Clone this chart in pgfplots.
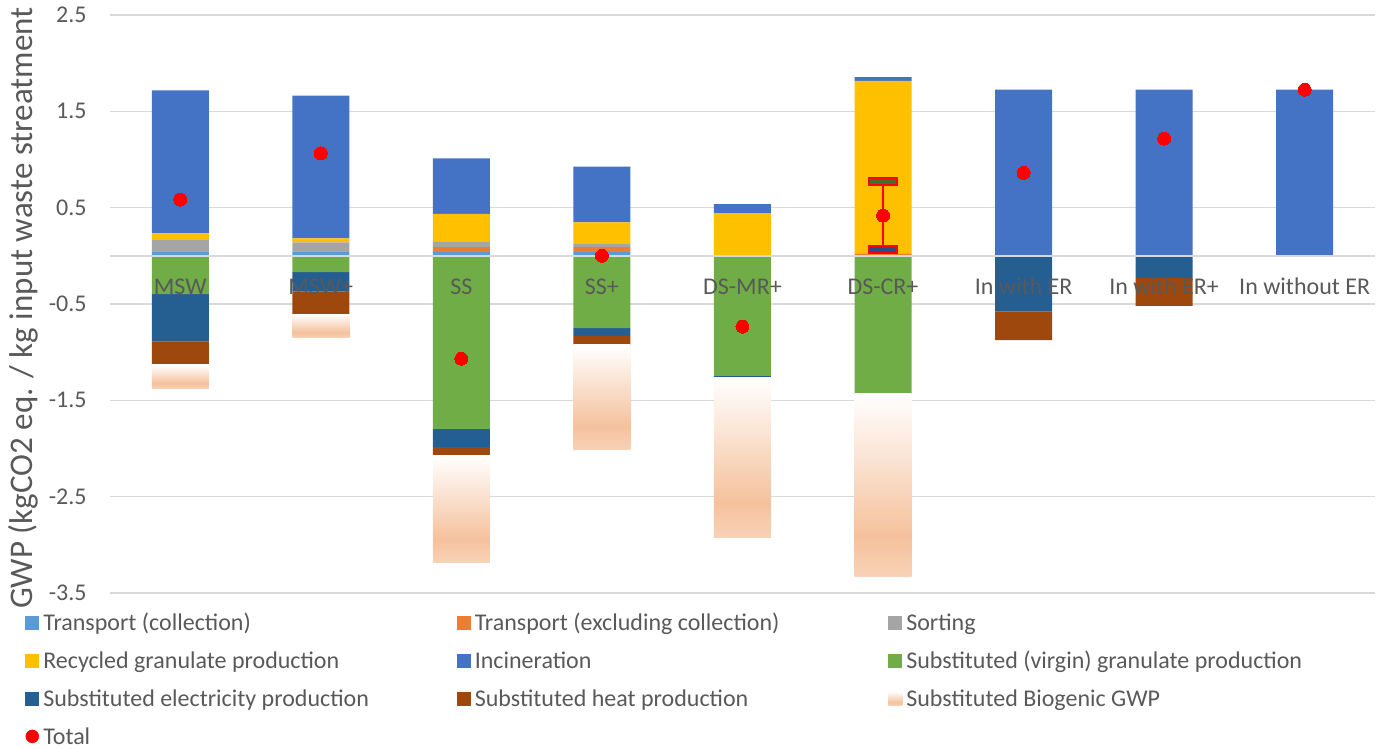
\documentclass[border=0pt]{standalone}
\usepackage{pgfplots}
\usepackage{pgfplotstable}
\pgfplotsset{compat=1.18}
\usepackage{fontspec}
\setmainfont{Carlito}

\definecolor{txt}{HTML}{595959}
\definecolor{gridc}{HTML}{D9D9D9}
\definecolor{ctcoll}{HTML}{5B9BD5}
\definecolor{ctexcl}{HTML}{ED7D31}
\definecolor{csort}{HTML}{A5A5A5}
\definecolor{crecyc}{HTML}{FFC000}
\definecolor{cincin}{HTML}{4472C4}
\definecolor{cvirgin}{HTML}{70AD47}
\definecolor{celec}{HTML}{255E91}
\definecolor{cheat}{HTML}{9E480E}
\definecolor{peachA}{HTML}{F5C19C}
\definecolor{peachB}{HTML}{F8D2B7}
\definecolor{captop}{HTML}{4A6B2E}
\definecolor{capbot}{HTML}{2B4C8C}

% white at the top of each bar, deepest peach near its foot
\pgfdeclareverticalshading{biogenic}{100bp}{color(0bp)=(peachB); color(25bp)=(peachB); color(36bp)=(peachA); color(75bp)=(white); color(100bp)=(white)}

% flat box used for the ends of the range bar
\pgfdeclareplotmark{capbox}{\pgfpathrectangle{\pgfpoint{-14pt}{-3.5pt}}{\pgfpoint{28pt}{7pt}}\pgfusepathqfillstroke}

\newcommand\tickfont{\fontsize{24pt}{28pt}\selectfont}

% GWP per scenario, one column per contribution
\pgfplotstableread{
x tcoll texcl sort  recyc incin virgin elec   heat   biog   total
0 0.040 0.005 0.125 0.062 1.485 -0.397 -0.494 -0.242 -0.245  0.584
1 0.040 0.005 0.095 0.041 1.482 -0.169 -0.200 -0.235 -0.246  1.064
2 0.038 0.052 0.055 0.290 0.577 -1.795 -0.187 -0.093 -1.109 -1.068
3 0.038 0.052 0.040 0.217 0.580 -0.750 -0.080 -0.095 -1.085  0.000
4 0.000 0.000 0.000 0.443 0.093 -1.247 -0.010 -0.010 -1.655 -0.735
5 0.000 0.025 0.000 1.792 0.038 -1.433  0.000  0.000 -1.897  0.418
6 0.000 0.000 0.000 0.000 1.725  0.000 -0.580 -0.295  0.000  0.860
7 0.000 0.000 0.000 0.000 1.725  0.000 -0.228 -0.292  0.000  1.217
8 0.000 0.000 0.000 0.000 1.725  0.000  0.000  0.000  0.000  1.725
}\gwp

\pgfplotsset{
  base/.style={scale only axis, width=1265pt, height=578pt,
    xmin=-0.5, xmax=8.5, ymin=-3.5, ymax=2.5,
    at={(110pt,155pt)}, anchor=south west},
  sqleg/.style={legend image code/.code={\path[##1, draw=none] (0pt,-7pt) rectangle (14pt,7pt);}},
}

\begin{document}
\begin{tikzpicture}
\path[use as bounding box] (0,0) rectangle (1387pt,748pt);

% grid, value axis and the emissions stacked upwards
\begin{axis}[base, ybar stacked, bar width=57pt,
  axis line style={draw=none}, tick style={draw=none},
  xtick=\empty,
  ytick={-3.5,-2.5,-1.5,-0.5,0.5,1.5,2.5},
  yticklabels={-3.5,-2.5,-1.5,-0.5,0.5,1.5,2.5},
  yticklabel style={font=\tickfont, text=txt, inner sep=0pt, anchor=east, xshift=-23.3pt},
  ymajorgrids, grid style={gridc, line width=1.6pt}]
  \addplot[fill=ctcoll, draw=none] table[x=x, y=tcoll] {\gwp};
  \addplot[fill=ctexcl, draw=none] table[x=x, y=texcl] {\gwp};
  \addplot[fill=csort,  draw=none] table[x=x, y=sort]  {\gwp};
  \addplot[fill=crecyc, draw=none] table[x=x, y=recyc] {\gwp};
  \addplot[fill=cincin, draw=none] table[x=x, y=incin] {\gwp};
\end{axis}

% avoided burdens stacked downwards
\begin{axis}[base, hide axis, ybar stacked, bar width=57pt]
  \addplot[fill=cvirgin, draw=none] table[x=x, y=virgin] {\gwp};
  \addplot[fill=celec,   draw=none] table[x=x, y=elec]   {\gwp};
  \addplot[fill=cheat,   draw=none] table[x=x, y=heat]   {\gwp};
\end{axis}

% biogenic credit: one scenario at a time, so that each bar gets its own gradient
\foreach \i in {0,...,5} {
  \begin{axis}[base, hide axis, ybar stacked, bar width=57pt,
      restrict x to domain=\i:\i]
    \addplot[draw=none, fill=none] table[x=x, y=virgin] {\gwp};
    \addplot[draw=none, fill=none] table[x=x, y=elec]   {\gwp};
    \addplot[draw=none, fill=none] table[x=x, y=heat]   {\gwp};
    \addplot[draw=none, shade, shading=biogenic] table[x=x, y=biog] {\gwp};
  \end{axis}
}

% zero line, net totals, scenario names and legend
\begin{axis}[base, hide axis,
  legend columns=3,
  legend style={at={(0,0)}, anchor=north west, xshift=-84.7pt, yshift=-22.1pt,
    draw=none, fill=none, inner sep=0pt, outer sep=0pt, row sep=22.7pt,
    font=\fontsize{24pt}{28pt}\selectfont, text=txt,
    cells={anchor=west},
    nodes={inner sep=0pt, text height=15.2pt, text depth=0pt},
    /tikz/every odd column/.append style={column sep=4pt}}]
  \addlegendimage{sqleg, fill=ctcoll}
  \addlegendentry{\makebox[413.5pt][l]{Transport (collection)}}
  \addlegendimage{sqleg, fill=ctexcl}
  \addlegendentry{\makebox[413.5pt][l]{Transport (excluding collection)}}
  \addlegendimage{sqleg, fill=csort}
  \addlegendentry{\makebox[413.5pt][l]{Sorting}}
  \addlegendimage{sqleg, fill=crecyc}
  \addlegendentry{\makebox[413.5pt][l]{Recycled granulate production}}
  \addlegendimage{sqleg, fill=cincin}
  \addlegendentry{\makebox[413.5pt][l]{Incineration}}
  \addlegendimage{sqleg, fill=cvirgin}
  \addlegendentry{\makebox[413.5pt][l]{Substituted (virgin) granulate production}}
  \addlegendimage{sqleg, fill=celec}
  \addlegendentry{\makebox[413.5pt][l]{Substituted electricity production}}
  \addlegendimage{sqleg, fill=cheat}
  \addlegendentry{\makebox[413.5pt][l]{Substituted heat production}}
  \addlegendimage{sqleg, shade, shading=biogenic}
  \addlegendentry{\makebox[413.5pt][l]{Substituted Biogenic GWP}}
  \addlegendimage{legend image code/.code={\fill[red] (7pt,0pt) circle (6.5pt);}}
  \addlegendentry{\makebox[413.5pt][l]{Total}}

  \addplot[forget plot, gridc, line width=1.6pt, mark=none] coordinates {(-0.5,0) (8.5,0)};

  \addplot[forget plot, red, line width=1.5pt, mark=none,
    error bars/.cd, y dir=both, y explicit, error mark=none,
    error bar style={red, line width=1.5pt}]
    coordinates {(5,0.418) += (0,0.352) -= (0,0.356)};
  \addplot[forget plot, only marks, mark=capbox,
    mark options={draw=red, fill=captop, line width=1.8pt}] coordinates {(5,0.770)};
  \addplot[forget plot, only marks, mark=capbox,
    mark options={draw=red, fill=capbot, line width=1.8pt}] coordinates {(5,0.062)};

  \addplot[forget plot, red, only marks, mark=*, mark size=6.5pt,
    mark options={draw=red, fill=red, line width=0pt}] table[x=x, y=total] {\gwp};

  \foreach \i/\name in {0/MSW, 1/MSW+, 2/SS, 3/SS+, 4/DS-MR+, 5/DS-CR+,
      6/In with ER, 7/In with ER+, 8/In without ER} {
    \edef\tmp{\noexpand\node[font=\noexpand\tickfont, text=txt, anchor=base, inner sep=0pt]
      at (axis cs:\i,-0.40) {\name};}\tmp
  }
\end{axis}

\node[rotate=90, anchor=base west, inner sep=0pt, text=txt,
  font=\fontsize{33pt}{38pt}\selectfont] at (32.5pt,139pt)
  {GWP (kgCO2 eq. / kg input waste streatment};
\end{tikzpicture}
\end{document}
